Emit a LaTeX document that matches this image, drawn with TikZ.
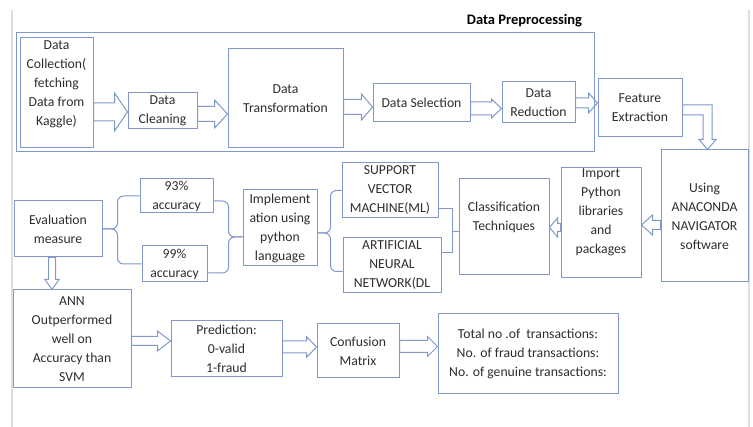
\documentclass[tikz,border=0pt]{standalone}
\usepackage{fontspec}
\setmainfont{Carlito}
\usetikzlibrary{calc}
\definecolor{lc}{RGB}{128,152,204}
\definecolor{tc}{RGB}{45,45,45}
\definecolor{pg}{RGB}{222,222,222}
% right-pointing block arrow: from, tip, y-centre, shaft half, head half, head length
\newcommand\rblk[6]{\draw[blk] let \p1=(#1), \p2=(#2), \p3=(0,#3) in
  (\x1,\y3+#4) -- (\x2-#6,\y3+#4) -- (\x2-#6,\y3+#5) -- (\x2,\y3) -- (\x2-#6,\y3-#5) -- (\x2-#6,\y3-#4) -- (\x1,\y3-#4) -- cycle;}
% left-pointing block arrow
\newcommand\lblk[6]{\draw[blk] let \p1=(#1), \p2=(#2), \p3=(0,#3) in
  (\x1,\y3+#4) -- (\x2+#6,\y3+#4) -- (\x2+#6,\y3+#5) -- (\x2,\y3) -- (\x2+#6,\y3-#5) -- (\x2+#6,\y3-#4) -- (\x1,\y3-#4) -- cycle;}
% down-pointing block arrow: from, tip, x-centre, shaft half, head half, head length
\newcommand\dblk[6]{\draw[blk] let \p1=(#1), \p2=(#2), \p3=(#3,0) in
  (\x3+#4,\y1) -- (\x3+#4,\y2+#6) -- (\x3+#5,\y2+#6) -- (\x3,\y2) -- (\x3-#5,\y2+#6) -- (\x3-#4,\y2+#6) -- (\x3-#4,\y1) -- cycle;}
\newcommand\liftup[2]{\raisebox{#1}[\height][\depth]{\begin{tabular}{@{}c@{}}#2\end{tabular}}}
\begin{document}
\begin{tikzpicture}[x=1pt,y=-1pt,
  box/.style={draw=lc, line width=1pt, inner sep=0pt, align=center, text=tc,
    font=\fontsize{13.7}{19}\selectfont},
  sz/.style 2 args={minimum width=#1pt, minimum height=#2pt},
  conn/.style={draw=lc, line width=1pt},
  blk/.style={draw=lc, line width=1pt, line join=miter},
  pageline/.style={draw=pg, line width=2pt}]
\useasboundingbox (0,0) rectangle (753,427);
\draw[pageline] (12,10) -- (12,427);
\draw[pageline] (749,10) -- (749,427);

% data preprocessing frame
\node[draw=lc, line width=1pt, sz={578}{119}] (prep) at (305,92.5) {};
\node[font=\fontsize{14.5}{17}\selectfont\bfseries, text=black, inner sep=0pt] (title) at (524.5,21) {Data Preprocessing};

% nodes
\node[box, sz={73}{110}] (dc) at (56.5,93) {\liftup{9.5pt}{Data\\Collection(\\fetching\\Data from\\Kaggle)}};
\node[box, sz={69}{36}] (clean) at (162.5,111) {Data\\Cleaning};
\node[box, sz={115}{99}] (trans) at (285.5,98.5) {Data\\Transformation};
\node[box, sz={97}{38}] (sel) at (421.5,103) {Data Selection};
\node[box, sz={73}{41}] (red) at (538.5,102.5) {Data\\Reduction};
\node[box, sz={84}{58}] (fe) at (640,108) {Feature\\Extraction};
\node[box, sz={87}{132}] (ana) at (704.5,216) {Using\\ANACONDA\\NAVIGATOR\\software};
\node[box, sz={80}{110}] (imp) at (601,223) {\liftup{11pt}{Import\\Python\\libraries\\and\\packages}};
\node[box, sz={90}{96}] (cls) at (504,227) {\liftup{9.5pt}{Classification\\Techniques}};
\node[box, sz={96}{55}] (svm) at (390,190.5) {SUPPORT\\VECTOR\\MACHINE(ML)};
\node[box, sz={98}{55}] (anndl) at (392,265.5) {ARTIFICIAL\\NEURAL\\NETWORK(DL};
\node[box, sz={74}{76}] (impl) at (280,228) {Implement\\ation using\\python\\language};
\node[box, sz={73}{34}] (a93) at (176.5,196) {93\%\\accuracy};
\node[box, sz={65}{36}] (a99) at (174.5,264) {99\%\\accuracy};
\node[box, sz={88}{56}] (eval) at (58,229) {Evaluation\\measure};
\node[box, sz={118}{98}] (annout) at (72,339) {ANN\\Outperformed\\well on\\Accuracy than\\SVM};
\node[box, sz={111}{56}] (pred) at (226.5,349) {Prediction:\\0-valid\\1-fraud};
\node[box, sz={82}{54}] (conf) at (358,351) {Confusion\\Matrix};
\node[box, sz={180}{80}] (total) at (528,354) {Total no .of\ \ transactions:\\No. of fraud transactions:\\No. of genuine transactions:};

% block arrows
\rblk{dc.east}{clean.west}{112}{9}{19}{13}
\rblk{clean.east}{trans.west}{114}{7.5}{14}{13}
\rblk{trans.east}{sel.west}{107}{7.5}{13}{11}
\rblk{sel.east}{red.west}{108.5}{6.5}{9.5}{10}
\rblk{red.east}{fe.west}{103}{5}{10}{9}
\draw[blk] let \p1=(fe.east), \p2=(ana.north) in
  (\x1,-105pt) -- (\x2+7.5pt,-105pt) -- (\x2+7.5pt,\y2+10pt) -- (\x2+11.5pt,\y2+10pt) -- (\x2+3pt,\y2)
  -- (\x2-5.5pt,\y2+10pt) -- (\x2-1.5pt,\y2+10pt) -- (\x2-1.5pt,-115pt) -- (\x1,-115pt) -- cycle;
\lblk{ana.west}{imp.east}{225}{4.5}{10}{11}
\lblk{imp.west}{cls.east}{227.5}{4}{9.5}{8}
\dblk{eval.south}{annout.north}{52}{3.5}{7}{10}
\rblk{annout.east}{pred.west}{341}{4.5}{10}{13}
\rblk{pred.east}{conf.west}{347}{6}{10.5}{10}
\rblk{conf.east}{total.west}{346.5}{6}{10}{10}

% braces and brackets
\draw[conn, rounded corners=6pt] (eval.east) -- ++(15,0) |- (a93.west);
\draw[conn, rounded corners=6pt] (eval.east) -- ++(15,0) |- (a99.west);
\draw[conn, rounded corners=6pt] ([yshift=-9pt]impl.west) -- ++(-14,0) |- ([yshift=-5pt]a93.east);
\draw[conn, rounded corners=6pt] ([yshift=-9pt]impl.west) -- ++(-14,0) |- ([yshift=-9pt]a99.east);
\draw[conn, rounded corners=6pt] ([yshift=-5pt]impl.east) -- ++(13,0) |- (svm.west);
\draw[conn, rounded corners=6pt] ([yshift=-5pt]impl.east) -- ++(13,0) |- ([yshift=-6pt]anndl.west);
\draw[conn] ([yshift=-18pt]svm.east) -- ++(14,0) |- ([yshift=13pt]anndl.east);
\draw[conn] ([yshift=-5pt]cls.west) -- ++(-7,0);
\end{tikzpicture}
\end{document}
